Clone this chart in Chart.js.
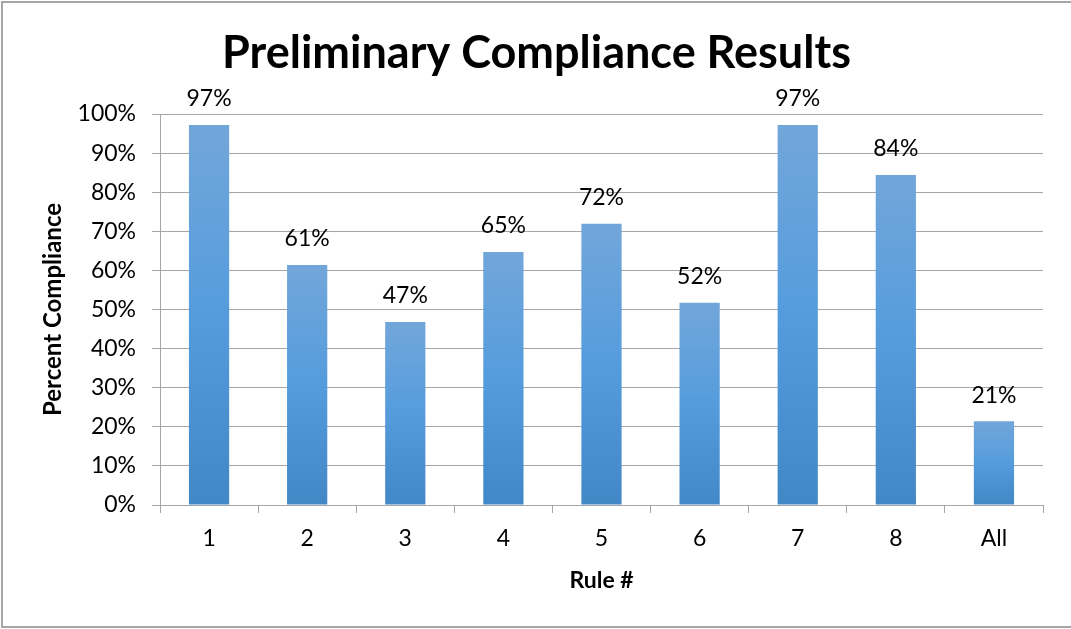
<!DOCTYPE html>
<html>
<head>
<meta charset="utf-8">
<script src="https://cdn.jsdelivr.net/npm/chart.js@4.4.1/dist/chart.umd.min.js"></script>
<style>
  html, body { margin: 0; padding: 0; background: #fff; }
  #wrap { width: 1071px; height: 629px; position: relative; }
</style>
</head>
<body>
<div id="wrap"><canvas id="chart"></canvas></div>
<script>
// values (percent)
const rules = ['1', '2', '3', '4', '5', '6', '7', '8', 'All'];
const compliance = [97.2, 61.4, 46.8, 64.7, 71.9, 51.7, 97.2, 84.4, 21.4];
const yTicks = [0, 10, 20, 30, 40, 50, 60, 70, 80, 90, 100];

const FONT = 'Lato, "Open Sans", sans-serif';
const GRID = '#a6a6a6';

// excel-ish vertical gradient, one per bar
function barFill(context) {
  const chart = context.chart;
  const y = chart.scales.y;
  if (!y || context.raw == null) return '#559cdd';
  const top = y.getPixelForValue(context.raw);
  const bottom = y.getPixelForValue(0);
  if (!isFinite(top) || !isFinite(bottom) || top === bottom) return '#559cdd';
  const g = chart.ctx.createLinearGradient(0, top, 0, bottom);
  g.addColorStop(0, '#72a6da');
  g.addColorStop(0.5, '#559cdd');
  g.addColorStop(1, '#4287c6');
  return g;
}

// labels above bars
const barLabels = {
  id: 'barLabels',
  afterDatasetsDraw(chart) {
    const ctx = chart.ctx;
    ctx.save();
    ctx.font = '23px ' + FONT;
    ctx.fillStyle = '#000';
    ctx.textAlign = 'center';
    ctx.textBaseline = 'middle';
    chart.getDatasetMeta(0).data.forEach((bar, i) => {
      ctx.fillText(Math.round(compliance[i]) + '%', bar.x, bar.y - 26);
    });
    ctx.restore();
  }
};

// outer frame (right side runs off the picture)
const frame = {
  id: 'frame',
  afterDraw(chart) {
    const ctx = chart.ctx;
    ctx.save();
    ctx.strokeStyle = '#a6a6a6';
    ctx.lineWidth = 2;
    ctx.beginPath();
    ctx.moveTo(1071, 2);
    ctx.lineTo(2, 2);
    ctx.lineTo(2, 627);
    ctx.lineTo(1071, 627);
    ctx.stroke();
    ctx.restore();
  }
};

new Chart(document.getElementById('chart'), {
  type: 'bar',
  data: {
    labels: rules,
    datasets: [{
      data: compliance,
      backgroundColor: barFill,
      barPercentage: 0.41,
      categoryPercentage: 1
    }]
  },
  options: {
    responsive: true,
    maintainAspectRatio: false,
    animation: false,
    layout: { padding: { top: 0, right: 28, bottom: 0, left: 30 } },
    plugins: {
      legend: { display: false },
      tooltip: { enabled: false },
      title: {
        display: true,
        text: 'Preliminary Compliance Results',
        color: '#000',
        font: { family: FONT, size: 45, weight: 'bold', lineHeight: 1.2 },
        padding: { top: 26, bottom: 34 }
      }
    },
    scales: {
      x: {
        grid: {
          offset: true,
          drawOnChartArea: false,
          drawTicks: true,
          tickLength: 8,
          color: GRID
        },
        border: { color: GRID, width: 1 },
        ticks: {
          color: '#000',
          font: { family: FONT, size: 23 },
          padding: 12
        },
        title: {
          display: true,
          text: 'Rule #',
          color: '#000',
          font: { family: FONT, size: 23, weight: 'bold', lineHeight: 1.2 },
          padding: { top: 0, bottom: 35 }
        },
        afterFit(scale) { scale.height = 124; }
      },
      y: {
        min: 0,
        max: 100,
        afterBuildTicks(scale) { scale.ticks = yTicks.map(v => ({ value: v })); },
        grid: { color: GRID, tickLength: 8 },
        border: { color: GRID, width: 1 },
        ticks: {
          color: '#000',
          font: { family: FONT, size: 23 },
          padding: 16,
          callback: v => v + '%'
        },
        title: {
          display: true,
          text: 'Percent Compliance',
          color: '#000',
          font: { family: FONT, size: 24, weight: 'bold', lineHeight: 1.2 },
          padding: { top: 9, bottom: 0 }
        },
        afterFit(scale) { scale.width = 130; }
      }
    }
  },
  plugins: [barLabels, frame]
});
</script>
</body>
</html>
